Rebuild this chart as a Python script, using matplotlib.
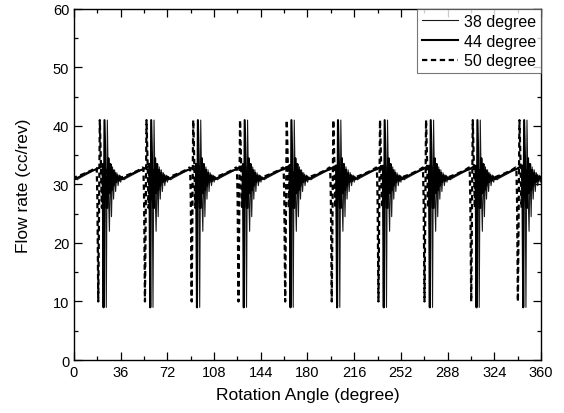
import matplotlib
matplotlib.use("Agg")
import matplotlib.pyplot as plt
import numpy as np
from matplotlib.ticker import MultipleLocator

plt.rcParams['font.family'] = ['Liberation Sans', 'DejaVu Sans']

# angles (deg) where the 50-degree curve starts its sharp drop, one per pumping cycle
spike_starts = [-18.6, 17.5, 53.5, 89.5, 125.6, 161.6, 197.5, 233.5, 269.0, 305.0, 341.0]

# one-cycle profile for each series: offset from spike start (deg) and flow rate (cc/rev)
off_50 = [0.0, 0.5, 1.2, 2.4, 3.2, 4.0, 4.8, 5.6, 6.4, 7.2, 8.0, 9.0, 10.0, 11.0,
          12.0, 13.0, 14.0, 15.0, 16.0, 17.5, 19.0, 26.0, 32.0, 35.4]
val_50 = [32.8, 28.0, 10.0, 41.0, 34.0, 26.0, 33.5, 27.5, 33.0, 28.5, 32.5, 29.5,
          32.0, 30.3, 31.8, 30.5, 31.5, 30.7, 31.3, 30.9, 31.2, 31.8, 32.4, 32.9]

off_44 = [0.0, 2.0, 4.6, 5.3, 6.0, 6.8, 7.5, 8.3, 9.0, 9.8, 10.6, 11.4, 12.2, 13.0,
          14.0, 15.0, 16.0, 17.0, 18.0, 19.5, 21.0, 27.0, 33.0]
val_44 = [32.6, 32.9, 33.2, 9.0, 41.0, 33.0, 26.0, 26.0, 34.5, 28.5, 33.5, 29.0,
          32.5, 29.8, 32.0, 30.4, 31.6, 30.6, 31.4, 30.9, 31.1, 31.8, 32.4]

off_38 = [0.0, 3.0, 6.7, 7.4, 8.2, 9.0, 9.8, 10.6, 11.4, 12.2, 13.0, 13.8, 14.6,
          15.5, 16.5, 17.5, 18.5, 19.5, 21.0, 23.0, 29.0, 34.0]
val_38 = [32.7, 33.0, 33.3, 9.0, 41.0, 29.0, 22.0, 33.5, 24.5, 33.0, 27.5, 32.5,
          28.8, 32.0, 29.8, 31.6, 30.4, 31.3, 30.8, 31.1, 31.8, 32.4]

series_labels = ['38 degree', '44 degree', '50 degree']


def build(offsets, values):
    xs, ys = [], []
    for s in spike_starts:
        for o, v in zip(offsets, values):
            xs.append(s + o)
            ys.append(v)
    return np.array(xs), np.array(ys)


fig = plt.figure(figsize=(5.64, 4.14), dpi=100)
ax = fig.add_axes([0.1312, 0.128, 0.828, 0.848])

x38, y38 = build(off_38, val_38)
x44, y44 = build(off_44, val_44)
x50, y50 = build(off_50, val_50)

ax.plot(x38, y38, color='#1a1a1a', lw=0.8, label=series_labels[0])
ax.plot(x44, y44, color='black', lw=1.5, label=series_labels[1])
ax.plot(x50, y50, color='black', lw=1.6, ls=(0, (2.4, 1.6)), label=series_labels[2])

ax.set_xlim(0, 360)
ax.set_ylim(0, 60)
ax.xaxis.set_major_locator(MultipleLocator(36))
ax.xaxis.set_minor_locator(MultipleLocator(18))
ax.yaxis.set_major_locator(MultipleLocator(10))
ax.yaxis.set_minor_locator(MultipleLocator(5))
ax.tick_params(which='both', direction='in', top=True, right=True, labelsize=10.5,
               width=0.9, colors='black')
ax.tick_params(which='major', length=6)
ax.tick_params(which='minor', length=3)
for sp in ax.spines.values():
    sp.set_linewidth(1.0)

ax.set_xlabel('Rotation Angle (degree)', fontsize=12.5, labelpad=6)
ax.set_ylabel('Flow rate (cc/rev)', fontsize=12.5, labelpad=16)

leg = ax.legend(loc='upper right', bbox_to_anchor=(1.0, 1.0), fontsize=11.5,
                frameon=True, fancybox=False, borderaxespad=0.0,
                handlelength=2.3, handletextpad=0.35, labelspacing=0.3,
                borderpad=0.3)
leg.get_frame().set_edgecolor('#555555')
leg.get_frame().set_linewidth(0.8)

fig.savefig('out.png', dpi=100)
